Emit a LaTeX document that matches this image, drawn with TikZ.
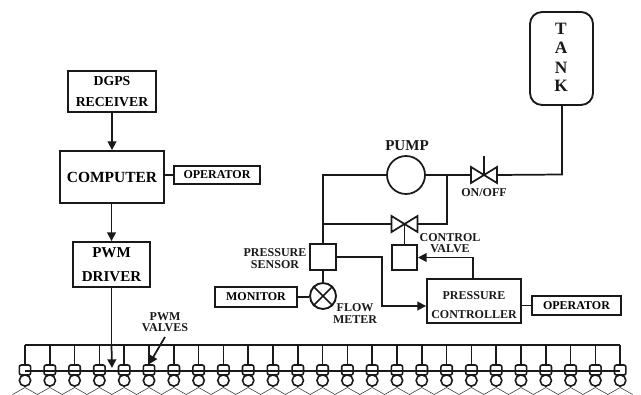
\documentclass[tikz,border=0pt]{standalone}
\usepackage{fontspec}
\setmainfont{Liberation Serif}
\usetikzlibrary{arrows.meta,calc}
\newcommand{\fs}[1]{\fontsize{#1}{#1}\selectfont\bfseries}
\tikzset{
  wire/.style={line width=1.3pt,draw=black!90},
  arr/.style={wire,-{Triangle[length=6.5pt,width=6.5pt]}},
  thin wire/.style={line width=0.45pt,draw=black!75},
  boxn/.style 2 args={draw=black!90,line width=1.4pt,inner sep=0pt,align=center,
     minimum width=#1*0.75pt,minimum height=#2*0.75pt},
  lab/.style={inner sep=0pt,align=center,text=black!90,font=\fs{9}},
  big/.style={font=\fs{11.3}},
  valvebody/.style={draw=black!90,line width=1.2pt,rounded corners=1.5pt,fill=white,inner sep=0pt,
     minimum width=8.5pt,minimum height=7.5pt},
  nozzle/.style={circle,draw=black!90,line width=1.2pt,fill=white,inner sep=0pt,minimum size=8.5pt},
  bowtie/.pic={
    \draw[wire,line join=miter] (-13,-8) -- (13,8) -- (13,-8) -- (-13,8) -- cycle;
    \coordinate (-l) at (-13,0);
    \coordinate (-r) at (13,0);
    \coordinate (-c) at (0,0);
  }
}
\begin{document}
\begin{tikzpicture}[x=0.75pt,y=-0.75pt]
\useasboundingbox (0,0) rectangle (641,395);

% left chain
\node[boxn={88}{41},font=\fs{10.3},align=center] (dgps) at (112,91.5) {DGPS\\[5.5pt]RECEIVER};
\node[boxn={104}{52},font=\fs{11.6}] (comp) at (112,177) {COMPUTER};
\node[boxn={86}{18},font=\fs{9}] (op1) at (217,175) {OPERATOR};
\node[boxn={77}{45},font=\fs{11.3}] (pwm) at (111.5,264.5) {PWM\\[6.5pt]DRIVER};
\draw[arr] (dgps) -- (comp);
\draw[arr] (comp.south -| pwm.north) -- (pwm.north);
\draw[wire] (comp.east |- op1.west) -- (op1.west);

% tank and pump circuit
\node[draw=black!90,line width=1.4pt,rounded corners=9pt,inner sep=0pt,
  minimum width=63*0.75pt,minimum height=93*0.75pt] (tank) at (561.5,58.5) {};
\node[lab,font=\fs{13}] (tT) at (561,29) {T};
\node[lab,font=\fs{13}] (tA) at (561,48) {A};
\node[lab,font=\fs{13}] (tN) at (561,68) {N};
\node[lab,font=\fs{13}] (tK) at (561,86) {K};

\node[circle,draw=black!90,line width=1.3pt,inner sep=0pt,minimum size=38*0.75pt] (pump) at (406,175) {};
\node[lab,big] (pumpt) at (407,146) {PUMP};
\pic (onoff) at (484,175) {bowtie};
\coordinate (onstem) at (484,156);
\node[lab] (ont) at (484,193) {ON/OFF};
\draw[wire] (onoff-c) -- (onstem);
\coordinate (tankcorner) at (562,174.5);
\draw[wire] (tank.south -| tankcorner) -- (tankcorner) -- (onoff-r);
\coordinate (split) at (447,175);
\draw[wire] (pump.east) -- (onoff-l);

\node[boxn={26}{26}] (sensor) at (323,257) {};
\node[lab] (sensort) at (275,258.5) {PRESSURE\\[-0.5pt]SENSOR};
\node[circle,draw=black!90,line width=1.4pt,inner sep=0pt,minimum size=26*0.75pt] (meter) at (323,296) {};
\draw[wire] (meter.north west) -- (meter.south east);
\draw[wire] (meter.north east) -- (meter.south west);
\node[lab] (metert) at (355,313.5) {FLOW\\[-0.5pt]METER};
\node[boxn={82}{20},font=\fs{9}] (monitor) at (256,297) {MONITOR};
\draw[wire] (monitor.east) -- (monitor.east -| meter.west);
\draw[wire] (sensor.south) -- (meter.north);

\coordinate (pumpcorner) at (323,175);
\draw[wire] (sensor.north) -- (pumpcorner) -- (pump.west);

\pic (cv) at (404.5,224) {bowtie};
\coordinate (cvcorner) at (447,224);
\coordinate (cvleft) at (323,224);
\draw[wire] (split) -- (cvcorner) -- (cv-r);
\draw[wire] (cvleft) -- (cv-l);
\node[boxn={25}{25}] (cvbox) at (404.5,257.5) {};
\draw[wire] (cv-c) -- (cvbox.north);
\node[lab] (cvt) at (450,243) {CONTROL\\[-0.5pt]VALVE};

\node[boxn={94}{44}] (ctrl) at (474,301) {};
\node[lab] (ctrlt) at (474,305) {PRESSURE\\[5pt]CONTROLLER};
\node[boxn={89}{19},font=\fs{9}] (op2) at (576.5,305.5) {OPERATOR};
\draw[wire] (ctrl.east |- op2.west) -- (op2.west);
\coordinate (c1) at (473,257.5);
\draw[arr] (c1 |- ctrl.north) -- (c1) -- (cvbox.east);
\coordinate (s1) at (382,257);
\coordinate (s2) at (382,306);
\draw[arr] (sensor.east) -- (s1) -- (s2) -- (s2 -| ctrl.west);

% spray bar
\coordinate (busL) at (25,345);
\coordinate (busR) at (620.2,345);
\coordinate (railL) at (25,371);
\coordinate (railR) at (620.2,371);
\draw[wire] (busL) -- (busR);
\foreach \i in {1,...,25}{
  \pgfmathsetmacro{\xx}{25+(\i-1)*24.8}
  \node[valvebody] (v\i) at (\xx,370) {};
  \node[nozzle] (n\i) at (\xx,380.5) {};
  \draw[wire] (v\i.north |- busL) -- (v\i.north);
  \coordinate (lo\i) at (\xx+12.4,394.5);
  \coordinate (tp\i) at (\xx,387.5);
}
\draw[wire] (railL) -- (railR);
\coordinate (lo0) at (12.6,394.5);
\draw[thin wire] (lo0) -- (tp1)
  \foreach \i in {1,...,25}{ -- (lo\i) \ifnum\i<25 -- (tp\the\numexpr\i+1\relax)\fi };

\draw[wire] (pwm.south) -- (pwm.south |- busL);
\coordinate (pwmtip) at (112,368);
\draw[arr] (pwm.south |- busL) -- (pwmtip);
\node[lab] (pwmvt) at (165,322) {PWM\\[-0.5pt]VALVES};
\coordinate (pv) at (165,337);
\draw[arr] (pv) -- (v6.north);
\end{tikzpicture}
\end{document}
